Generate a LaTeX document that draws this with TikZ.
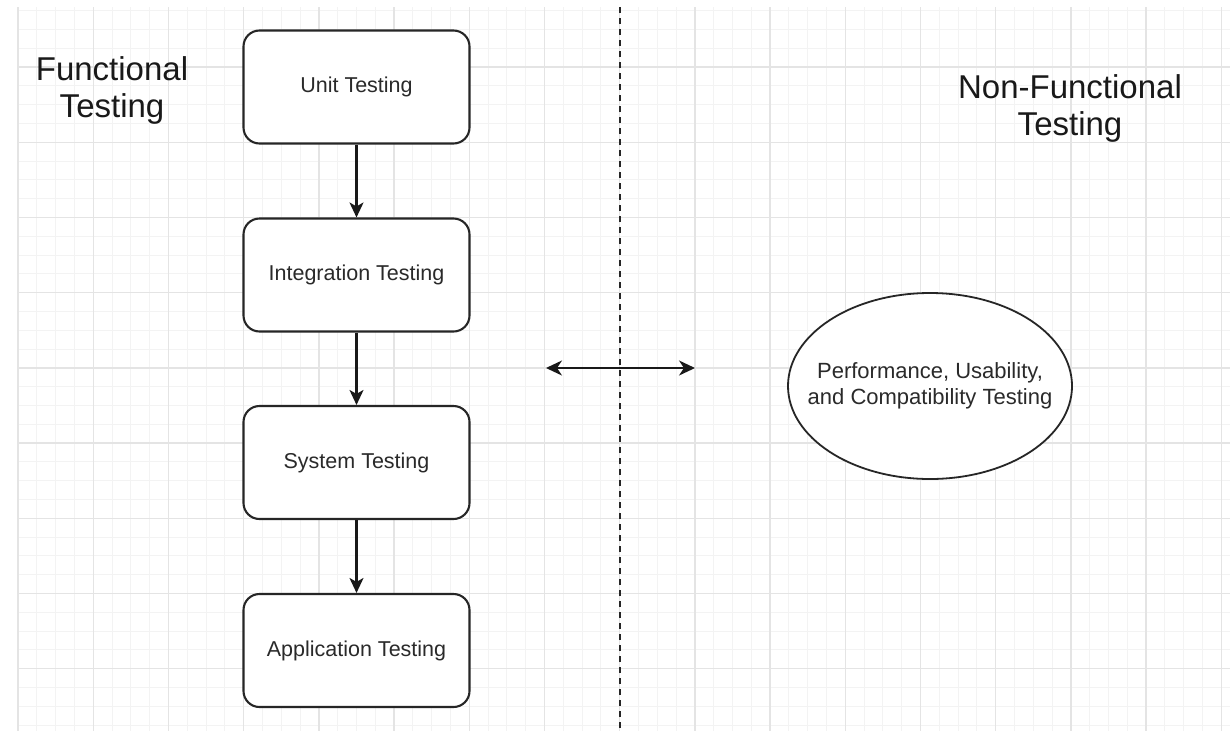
\documentclass[tikz,border=0pt]{standalone}
\usepackage{fontspec}
\setmainfont{Liberation Sans}
\usetikzlibrary{arrows.meta,shapes.geometric}

\definecolor{minorgrid}{HTML}{F3F3F3}
\definecolor{majorgrid}{HTML}{E4E4E4}
\definecolor{inktext}{HTML}{2A2A2A}

\tikzset{
  minorline/.style={draw=minorgrid,line width=1pt},
  majorline/.style={draw=majorgrid,line width=1.4pt},
  stagebox/.style={draw=black!85,line width=2.1pt,rounded corners=16pt,fill=white,
    minimum width=226pt,minimum height=113pt,inner sep=0pt,
    font=\fontsize{21.5}{26}\selectfont,text=inktext},
  ovalbox/.style={ellipse,draw=black!85,line width=1.8pt,fill=white,
    minimum width=284pt,minimum height=186pt,inner xsep=-22pt,inner ysep=0pt,align=center,
    font=\fontsize{22}{26}\selectfont,text=inktext},
  heading/.style={align=center,inner sep=0pt,font=\fontsize{33}{37}\selectfont,text=black!90},
  flowarrow/.style={line width=2.2pt,draw=black!90,-{Stealth[length=15pt,width=14pt,inset=4pt]}},
  bothways/.style={line width=2.2pt,draw=black!90,
    {Stealth[length=16pt,width=15pt,inset=5pt]}-{Stealth[length=16pt,width=15pt,inset=5pt]}},
  divider/.style={line width=1.8pt,draw=black!85,dash pattern=on 6pt off 5pt}
}

\begin{document}
\begin{tikzpicture}[x=1pt,y=-1pt]
  \useasboundingbox[fill=white] (0,0) rectangle (1230,731);

  % background grid: minor lines every 18.8, major lines every 75.2
  \foreach \i in {0,...,64} {
    \pgfmathsetmacro\gx{18+18.8*\i}
    \draw[minorline] (\gx,7) -- (\gx,731);
  }
  \foreach \i in {-3,...,35} {
    \pgfmathsetmacro\gy{67+18.8*\i}
    \draw[minorline] (18,\gy) -- (1230,\gy);
  }
  \foreach \i in {0,...,16} {
    \pgfmathsetmacro\gx{18+75.2*\i}
    \draw[majorline] (\gx,7) -- (\gx,731);
  }
  \foreach \i in {0,...,8} {
    \pgfmathsetmacro\gy{67+75.2*\i}
    \draw[majorline] (18,\gy) -- (1230,\gy);
  }

  % section headings
  \node[heading] (functional) at (112,90) {Functional\\Testing};
  \node[heading] (nonfunctional) at (1070,108) {Non-Functional\\Testing};

  % functional testing levels
  \node[stagebox] (unit)  at (356.5,87)    {Unit Testing};
  \node[stagebox] (integ) at (356.5,275)   {Integration Testing};
  \node[stagebox] (sys)   at (356.5,462.5) {System Testing};
  \node[stagebox] (app)   at (356.5,650.5) {Application Testing};

  \draw[flowarrow] (unit) -- (integ);
  \draw[flowarrow] (integ) -- (sys);
  \draw[flowarrow] (sys) -- (app);

  % dividing line between the two kinds of testing
  \coordinate (divtop) at (620,7);
  \coordinate (divbottom) at (620,731);
  \draw[divider] (divtop) -- (divbottom);

  \coordinate (linkleft) at (546,368);
  \coordinate (linkright) at (695,368);
  \draw[bothways] (linkleft) -- (linkright);

  % non-functional testing
  \node[ovalbox] (perf) at (930,386) {Performance, Usability,\\and Compatibility Testing};
\end{tikzpicture}
\end{document}
